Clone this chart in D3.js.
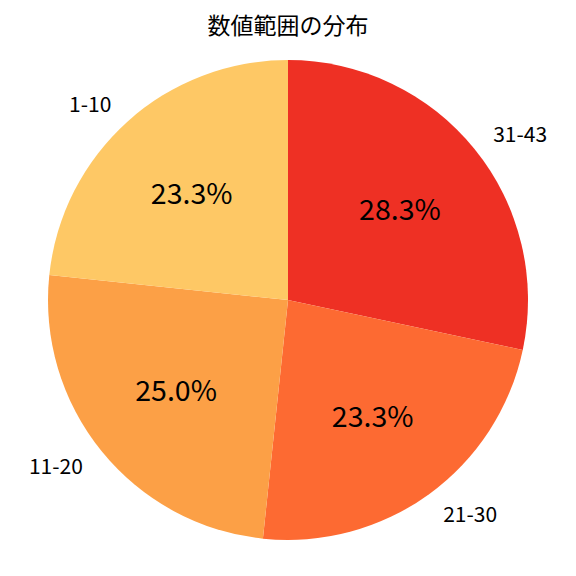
<!DOCTYPE html>
<html>
<head>
<meta charset="utf-8">
<script src="https://cdn.jsdelivr.net/npm/d3@7"></script>
<style>
  body { margin: 0; background: #fff; }
  text { font-family: "Noto Sans CJK JP", "Noto Sans", sans-serif; fill: #000; }
</style>
</head>
<body>
<div class="container"></div>
<script>
const title = "数値範囲の分布"
const categories = ["31-43", "21-30", "11-20", "1-10"]
const counts = [17, 14, 15, 14]
const colors = ["#ee3024", "#fd6a32", "#fca046", "#fec865"]

const w = 576
const h = 576
const cx = 288
const cy = 300
const r = 240

const svg = d3.select(".container")
    .append("svg")
    .attr("width", w)
    .attr("height", h)

const total = d3.sum(counts)
const pie = d3.pie().sort(null).value(d => d)
const arcs = pie(counts)

const arc = d3.arc().innerRadius(0).outerRadius(r)

const mid = d => (d.startAngle + d.endAngle) / 2

const g = svg.append("g")
    .attr("transform", "translate(" + cx + "," + cy + ")")

g.selectAll("path")
    .data(arcs)
    .enter()
    .append("path")
    .attr("d", arc)
    .attr("fill", (d, i) => colors[i])

// percentage labels at 0.6r
g.selectAll(".pct")
    .data(arcs)
    .enter()
    .append("text")
    .attr("class", "pct")
    .attr("x", d => 0.6 * r * Math.sin(mid(d)))
    .attr("y", d => -0.6 * r * Math.cos(mid(d)) - 2)
    .attr("text-anchor", "middle")
    .attr("dominant-baseline", "central")
    .style("font-size", "28.5px")
    .text(d => (d.value / total * 100).toFixed(1) + "%")

// category labels at 1.1r
g.selectAll(".lbl")
    .data(arcs)
    .enter()
    .append("text")
    .attr("class", "lbl")
    .attr("x", d => 1.1 * r * Math.sin(mid(d)))
    .attr("y", d => -1.1 * r * Math.cos(mid(d)) - 1)
    .attr("text-anchor", d => Math.sin(mid(d)) > 0 ? "start" : "end")
    .attr("dominant-baseline", "central")
    .style("font-size", "21px")
    .text((d, i) => categories[i])

svg.append("text")
    .attr("x", w / 2)
    .attr("y", 24)
    .attr("text-anchor", "middle")
    .attr("dominant-baseline", "central")
    .style("font-size", "23px")
    .text(title)
</script>
</body>
</html>
